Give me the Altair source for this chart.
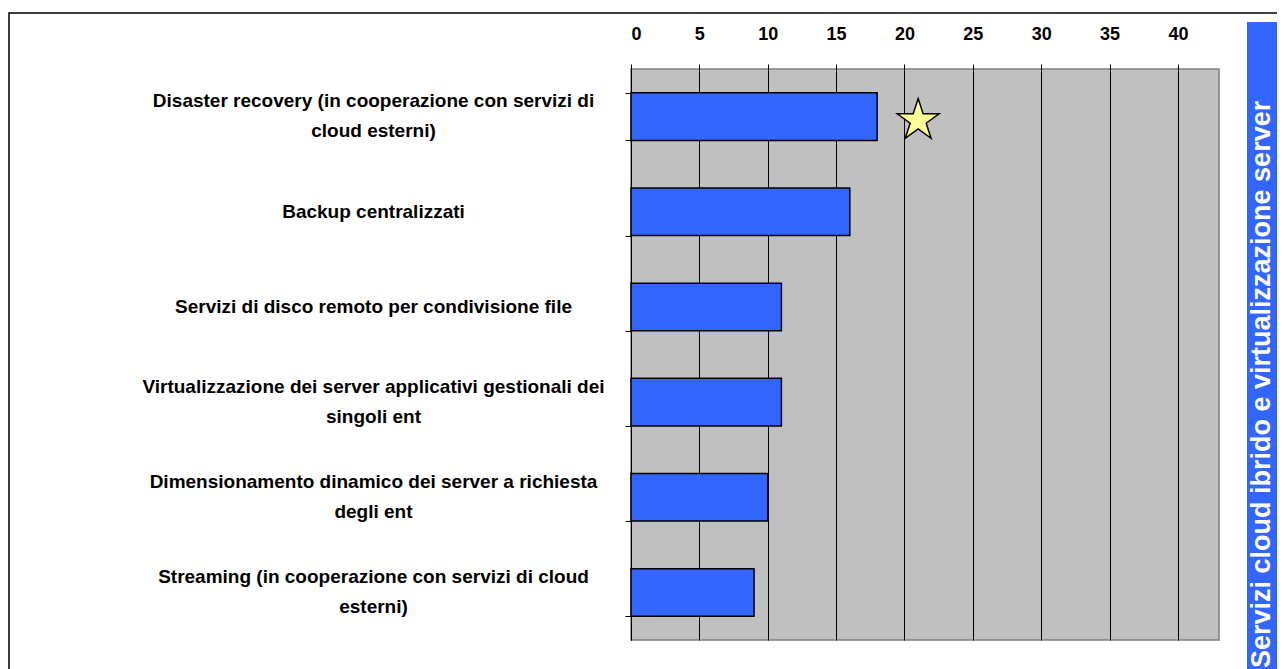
import altair as alt
import pandas as pd

categories = [
    "Disaster recovery (in cooperazione con servizi di|cloud esterni)",
    "Backup centralizzati",
    "Servizi di disco remoto per condivisione file",
    "Virtualizzazione dei server applicativi gestionali dei|singoli ent",
    "Dimensionamento dinamico dei server a richiesta|degli ent",
    "Streaming (in cooperazione con servizi di cloud|esterni)",
]
values = [18, 16, 11, 11, 10, 9]
star_category = categories[0]
star_value = 21
x_ticks = [0, 5, 10, 15, 20, 25, 30, 35, 40]
side_title = "Servizi cloud ibrido e virtualizzazione server"

bars_df = pd.DataFrame({"cat": categories, "value": values})
star_df = pd.DataFrame({"cat": [star_category], "value": [star_value]})
title_df = pd.DataFrame({"t": [side_title]})
one_df = pd.DataFrame({"k": [0]})

FONT = "Liberation Sans"
BLUE = "#3366FF"

star_path = ("M0,-1 L0.225,-0.309 L0.951,-0.309 L0.363,0.118 L0.588,0.809 "
             "L0,0.382 L-0.588,0.809 L-0.363,0.118 L-0.951,-0.309 L-0.225,-0.309 Z")

two_line_test = "isValid(datum.value) && indexof(datum.value, '|') >= 0"

y_enc = alt.Y(
    "cat:N",
    sort=categories,
    scale=alt.Scale(paddingInner=0.5, paddingOuter=0.25),
    axis=alt.Axis(
        title=None,
        labelExpr="isValid(datum.value) ? split(datum.value, '|') : ''",
        labelAlign="center",
        labelBaseline="middle",
        labelPadding=252,
        labelLineHeight=30,
        labelOffset={"condition": {"test": two_line_test, "value": -16}, "value": 0},
        labelFontSize=19,
        labelFont=FONT,
        labelFontWeight="bold",
        labelColor="black",
        labelLimit=0,
        tickBand="extent",
        tickColor="black",
        tickSize=6,
        domainColor="black",
        domainWidth=1,
        grid=False,
    ),
)

x_enc = alt.X(
    "value:Q",
    scale=alt.Scale(domain=[0, 43], nice=False, zero=True),
    axis=alt.Axis(
        orient="top",
        values=x_ticks,
        title=None,
        grid=True,
        gridColor="black",
        gridOpacity=1,
        gridWidth=1,
        tickColor="black",
        tickSize=5,
        labelFontSize=18,
        labelFont=FONT,
        labelFontWeight="bold",
        labelColor="black",
        labelPadding=21,
        domain=False,
    ),
)

frame = alt.Chart(one_df).mark_rect(fill=None, stroke="black", strokeWidth=1.5).encode(
    x=alt.value(-622), x2=alt.value(900), y=alt.value(-56), y2=alt.value(900)
)

strip = alt.Chart(one_df).mark_rect(fill=BLUE).encode(
    x=alt.value(616), x2=alt.value(900), y=alt.value(-47), y2=alt.value(900)
)

strip_text = alt.Chart(title_df).mark_text(
    angle=270, align="left", baseline="middle", font=FONT, fontWeight="bold",
    fontSize=27, color="white"
).encode(text="t:N", x=alt.value(631), y=alt.value(599))

bars = alt.Chart(bars_df).mark_bar(color=BLUE, stroke="black", strokeWidth=1.5).encode(
    x=x_enc, y=y_enc
)

star = alt.Chart(star_df).mark_point(
    shape=star_path, size=1936, filled=True, fill="#FFFF99", stroke="black",
    strokeWidth=1.5, opacity=1, yOffset=4
).encode(x="value:Q", y=alt.Y("cat:N", sort=categories))

chart = alt.layer(frame, strip, strip_text, bars, star).properties(
    width=588,
    height=571,
    padding={"left": 623, "top": 61, "right": 58, "bottom": 29},
    autosize="none",
    background="white",
).configure_view(fill="#C0C0C0", stroke="#808080", strokeWidth=1.5)

chart.save("out.html", embed_options={"renderer": "svg", "actions": False})
